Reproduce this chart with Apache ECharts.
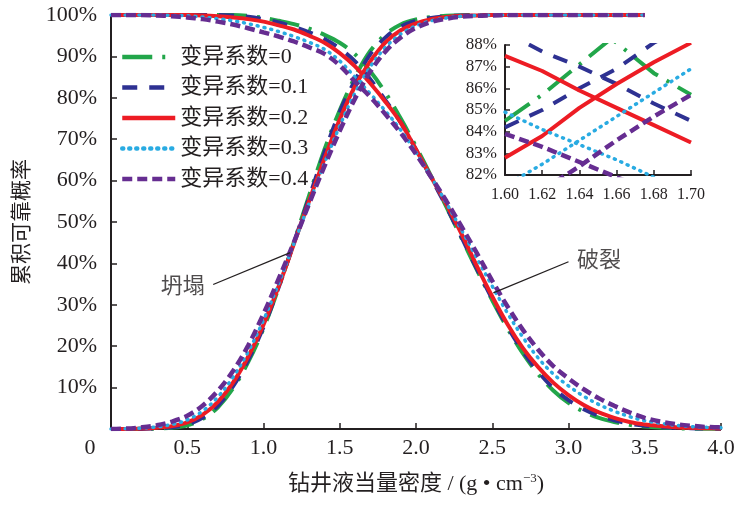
<!DOCTYPE html>
<html>
<head>
<meta charset="utf-8">
<script src="https://cdn.jsdelivr.net/npm/echarts@6/dist/echarts.min.js"></script>
<style>html,body{margin:0;padding:0;background:#fff}#c{width:746px;height:506px}</style>
</head>
<body>
<div id="c"></div>
<script>
// ---------------- data ----------------
const seriesNames = ['变异系数=0', '变异系数=0.1', '变异系数=0.2', '变异系数=0.3', '变异系数=0.4'];

// main x positions (g/cm3)
const xMain = [0.0,0.1,0.2,0.3,0.4,0.5,0.6,0.7,0.8,0.9,1.0,1.1,1.2,1.3,1.4,1.5,1.6,1.7,1.8,1.9,2.0,
               2.1,2.2,2.3,2.4,2.5,2.6,2.7,2.8,2.9,3.0,3.1,3.2,3.3,3.4,3.5,3.6,3.7,3.8,3.9,4.0];

// collapse (坍塌) cumulative reliability, %, x = 0 .. 3.5
const collapseCv0  = [0,0,0,0.1,0.3,0.9,2.4,5.2,9.8,16.2,24.3,34.2,45.2,56.5,67.5,77.0,85.0,91.3,95.3,97.7,98.9,99.5,99.8,99.95,100,100,100,100,100,100,100,100,100,100,100,100];
const collapseCv01 = [0,0,0,0.15,0.4,1.1,2.7,5.6,10.3,16.7,24.6,34.3,45.0,56.0,66.8,76.6,84.2,90.5,94.6,97.2,98.6,99.3,99.7,99.9,100,100,100,100,100,100,100,100,100,100,100,100];
const collapseCv02 = [0,0,0.1,0.3,0.7,1.6,3.4,6.5,11.2,17.5,25.2,34.5,44.8,55.2,65.3,74.8,82.8,88.8,93.4,96.3,98.0,99.0,99.5,99.8,99.9,100,100,100,100,100,100,100,100,100,100,100];
const collapseCv03 = [0,0.05,0.2,0.5,1.1,2.2,4.3,7.7,12.5,18.7,26.3,35.2,44.8,54.6,64.2,73.2,81.2,87.5,92.2,95.4,97.4,98.6,99.3,99.7,99.9,100,100,100,100,100,100,100,100,100,100,100];
const collapseCv04 = [0,0.1,0.4,0.9,1.8,3.2,5.6,9.2,14.0,20.2,27.8,36.3,45.2,54.5,63.5,72.0,79.8,86.3,91.2,94.6,96.9,98.3,99.1,99.6,99.8,99.9,100,100,100,100,100,100,100,100,100,100];

// fracture (破裂) cumulative reliability, %, x = 0 .. 4.0
const fractureCv0  = [100,100,100,100,100,100,100,100,100,99.8,99.3,98.6,97.8,96.7,95.2,93.3,90.5,86.4,81.2,75.0,68.2,
                      61.0,53.6,46.0,38.4,31.1,24.3,18.3,13.3,9.3,6.3,4.2,2.7,1.7,1.0,0.6,0.35,0.2,0.1,0.05,0.02];
const fractureCv01 = [100,100,100,100,100,100,100,100,99.9,99.6,99.0,98.2,97.1,95.8,94.2,91.9,88.8,84.5,79.4,74.0,67.5,
                      60.6,53.6,46.2,38.6,31.4,24.7,18.8,13.9,9.9,7.0,4.8,3.2,2.1,1.3,0.8,0.5,0.3,0.2,0.1,0.05];
const fractureCv02 = [100,100,100,100,100,100,99.9,99.7,99.4,99.0,98.4,97.5,96.5,95.0,93.3,90.8,87.6,83.5,79.0,74.0,67.5,
                      60.8,54.2,47.0,39.3,32.0,25.3,19.6,15.0,11.2,8.2,5.8,4.0,2.7,1.7,1.1,0.7,0.45,0.3,0.2,0.1];
const fractureCv03 = [100,100,100,100,99.9,99.8,99.5,99.1,98.6,97.9,97.0,96.0,94.8,93.4,91.7,88.9,85.0,81.0,76.8,72.2,66.8,
                      60.8,54.5,48.0,41.2,34.5,28.0,22.2,17.2,13.3,10.4,7.9,5.9,4.3,3.0,2.0,1.4,0.9,0.6,0.4,0.3];
const fractureCv04 = [100,100,100,99.9,99.7,99.4,99.0,98.4,97.7,96.8,95.8,94.8,93.6,92.2,90.6,87.8,83.9,80.2,76.0,71.5,66.4,
                      60.8,55.0,48.8,42.4,35.8,29.6,24.0,19.2,15.2,12.2,9.6,7.4,5.6,4.0,2.7,1.8,1.2,0.8,0.5,0.4];

// inset (zoom 1.60 - 1.70)
const xInset = [1.60, 1.62, 1.64, 1.66, 1.68, 1.70];
const insetCollapseCv0  = [84.5, 85.7, 87.1, 88.5, 89.9, 91.2];
const insetCollapseCv01 = [84.2, 85.0, 86.0, 86.9, 88.1, 89.0];
const insetCollapseCv02 = [82.8, 83.8, 85.1, 86.2, 87.2, 88.1];
const insetCollapseCv03 = [81.5, 82.5, 83.6, 84.7, 85.8, 86.9];
const insetCollapseCv04 = [80.2, 81.3, 82.4, 83.6, 84.7, 85.7];
const insetFractureCv0  = [91.7, 90.6, 89.4, 88.1, 86.7, 85.7];
const insetFractureCv01 = [88.6, 87.7, 87.0, 86.2, 85.3, 84.5];
const insetFractureCv02 = [87.5, 86.8, 85.9, 85.1, 84.3, 83.5];
const insetFractureCv03 = [84.9, 84.1, 83.4, 82.7, 81.9, 81.1];
const insetFractureCv04 = [83.9, 83.3, 82.6, 81.9, 81.2, 80.5];

// tick labels
const xTickLabels = ['0', '0.5', '1.0', '1.5', '2.0', '2.5', '3.0', '3.5', '4.0'];
const yTickLabels = ['', '10%', '20%', '30%', '40%', '50%', '60%', '70%', '80%', '90%', '100%'];
const insetXTickLabels = ['1.60', '1.62', '1.64', '1.66', '1.68', '1.70'];
const insetYTickLabels = ['82%', '83%', '84%', '85%', '86%', '87%', '88%'];

// annotations
const collapseNote = { text: '坍塌', at: [0.47, 34.3], leader: [[0.67, 34.9], [1.175, 42.6]] };
const fractureNote = { text: '破裂', at: [3.2, 40.6], leader: [[3.0, 40.4], [2.507, 32.9]] };

// ---------------- styles ----------------
const FONT = "'Liberation Serif', 'Times New Roman', 'Noto Sans CJK SC', serif";
const INK = '#231f20';
const colors = ['#22a64a', '#2e3192', '#ed1c24', '#29abe2', '#662d91'];
const dashes = [[30, 10, 3, 10], [15, 12], 'solid', [1, 6], [10, 5]];
const widths = [4, 4, 4, 3.5, 4.5];
const caps = ['butt', 'butt', 'butt', 'round', 'butt'];

const collapseMain = [collapseCv0, collapseCv01, collapseCv02, collapseCv03, collapseCv04];
const fractureMain = [fractureCv0, fractureCv01, fractureCv02, fractureCv03, fractureCv04];
const collapseIns = [insetCollapseCv0, insetCollapseCv01, insetCollapseCv02, insetCollapseCv03, insetCollapseCv04];
const fractureIns = [insetFractureCv0, insetFractureCv01, insetFractureCv02, insetFractureCv03, insetFractureCv04];

function pair(xs, ys) { return ys.map((y, i) => [xs[i], y]); }

function lineSeries(k, data, axis, smooth) {
  return {
    type: 'line', name: seriesNames[k], data: data,
    xAxisIndex: axis, yAxisIndex: axis,
    symbol: 'none', showSymbol: false, smooth: smooth,
    clip: true, silent: true, animation: false,
    lineStyle: { color: colors[k], width: widths[k], type: dashes[k], cap: caps[k] },
    itemStyle: { color: colors[k] }
  };
}

const series = [];
for (let k = 0; k < 5; k++) {
  series.push(lineSeries(k, pair(xMain, collapseMain[k]), 0, 0.35));
  series.push(lineSeries(k, pair(xMain, fractureMain[k]), 0, 0.35));
}
for (let k = 0; k < 5; k++) {
  series.push(lineSeries(k, pair(xInset, collapseIns[k]), 1, false));
  series.push(lineSeries(k, pair(xInset, fractureIns[k]), 1, false));
}
[collapseNote, fractureNote].forEach((n, i) => {
  series.push({
    type: 'line', name: 'leader' + i, data: n.leader, xAxisIndex: 0, yAxisIndex: 0,
    symbol: 'none', silent: true, animation: false,
    lineStyle: { color: INK, width: 1.3 }
  });
  series.push({
    type: 'scatter', name: 'note' + i, data: [n.at], xAxisIndex: 0, yAxisIndex: 0,
    symbolSize: 0, silent: true, animation: false,
    label: { show: true, position: 'inside', formatter: n.text, color: INK,
             fontFamily: FONT, fontSize: 22 }
  });
});

const axisLineStyle = { show: true, lineStyle: { color: INK, width: 2 } };

const option = {
  backgroundColor: '#fff',
  animation: false,
  textStyle: { fontFamily: FONT, color: INK },
  legend: {
    data: seriesNames, orient: 'vertical', left: 120, top: 46, padding: 0,
    itemWidth: 53, itemHeight: 14, itemGap: 8.5,
    itemStyle: { opacity: 0 },
    lineStyle: { width: 4.5 },
    textStyle: { fontFamily: FONT, fontSize: 22, lineHeight: 22, color: INK },
    selectedMode: false
  },
  grid: [
    { left: 111, right: 25, top: 15, bottom: 77 },
    { left: 505, top: 45, width: 186, height: 130 }
  ],
  xAxis: [
    {
      type: 'value', gridIndex: 0, min: 0, max: 4, interval: 0.5,
      axisLine: axisLineStyle,
      axisTick: { show: true, inside: true, length: 6, lineStyle: { color: INK, width: 1.5 } },
      splitLine: { show: false },
      axisLabel: {
        margin: 8, fontFamily: FONT, fontSize: 22, color: INK,
        formatter: (v, i) => i === 0 ? '{z|' + xTickLabels[0] + '}' : xTickLabels[i],
        rich: { z: { fontFamily: FONT, fontSize: 22, color: INK, padding: [0, 42, 0, 0] } }
      },
      name: '钻井液当量密度 / (g • cm{sup|−3})',
      nameLocation: 'middle', nameGap: 43,
      nameTextStyle: {
        fontFamily: FONT, fontSize: 22, color: INK,
        rich: { sup: { fontFamily: FONT, fontSize: 13, color: INK, padding: [0, 0, 11, 0] } }
      }
    },
    {
      type: 'value', gridIndex: 1, min: 1.6, max: 1.7, interval: 0.02,
      axisLine: axisLineStyle,
      axisTick: { show: true, inside: true, length: 5, lineStyle: { color: INK, width: 1.5 } },
      splitLine: { show: false },
      axisLabel: { margin: 12, fontFamily: FONT, fontSize: 16, color: INK,
                   formatter: (v, i) => insetXTickLabels[i] }
    }
  ],
  yAxis: [
    {
      type: 'value', gridIndex: 0, min: 0, max: 100, interval: 10,
      axisLine: axisLineStyle,
      axisTick: { show: true, inside: true, length: 6, lineStyle: { color: INK, width: 1.5 } },
      splitLine: { show: false },
      axisLabel: { margin: 14, fontFamily: FONT, fontSize: 22, color: INK,
                   formatter: (v, i) => yTickLabels[i] },
      name: '累积可靠概率', nameLocation: 'middle', nameRotate: 90, nameGap: 78,
      nameTextStyle: { fontFamily: FONT, fontSize: 21, color: INK }
    },
    {
      type: 'value', gridIndex: 1, min: 82, max: 88, interval: 1,
      axisLine: axisLineStyle,
      axisTick: { show: true, inside: true, length: 5, lineStyle: { color: INK, width: 1.5 } },
      splitLine: { show: false },
      axisLabel: { margin: 8, fontFamily: FONT, fontSize: 17, color: INK,
                   formatter: (v, i) => insetYTickLabels[i] }
    }
  ],
  series: series
};

const chart = echarts.init(document.getElementById('c'), null, { renderer: 'canvas' });
chart.setOption(option);
</script>
</body>
</html>
